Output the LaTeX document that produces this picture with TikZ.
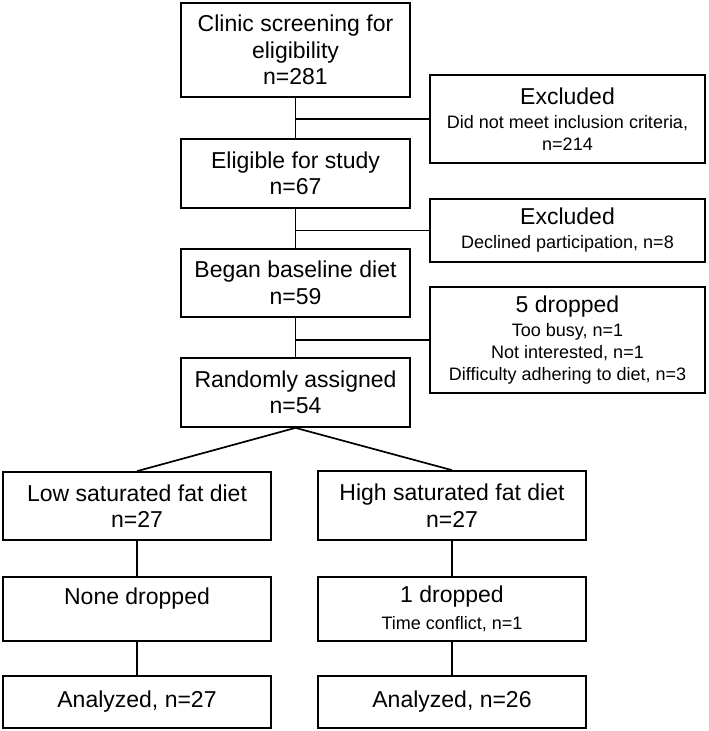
\documentclass[tikz,border=0pt]{standalone}
\usepackage{fontspec}
\setmainfont{Liberation Sans}
\newcommand{\bigtxt}{\fontsize{23}{26.5}\selectfont}
\newcommand{\smalltxt}{\fontsize{18}{22.5}\selectfont}

\tikzset{
  flowbox/.style={draw, rectangle, line width=1.7pt, align=center,
    inner sep=0pt, font=\bigtxt},
  leftbox/.style={flowbox, minimum width=229pt},
  sidebox/.style={flowbox, minimum width=275pt},
  armbox/.style={flowbox, minimum width=268pt},
  link/.style={line width=1.7pt}
}

\begin{document}
\begin{tikzpicture}[x=1pt,y=-1pt]
\useasboundingbox (0,0) rectangle (709,731);

% main column
\node[leftbox, minimum height=94pt] (clinic) at (295.5,50)
  {Clinic screening for\\eligibility\\n=281};
\node[leftbox, minimum height=69pt] (eligible) at (295.5,173.5)
  {Eligible for study\\n=67};
\node[leftbox, minimum height=68pt] (began) at (295.5,283)
  {Began baseline diet\\n=59};
\node[leftbox, minimum height=69pt] (random) at (295.5,392.5)
  {Randomly assigned\\n=54};

% excluded / dropped on the right
\node[sidebox, minimum height=88pt] (exclCriteria) at (567.5,119)
  {Excluded\\[-2.5pt]\smalltxt Did not meet inclusion criteria,\\[-4.5pt]\smalltxt n=214};
\node[sidebox, minimum height=63pt] (exclDeclined) at (567.5,230.5)
  {Excluded\\[-2.5pt]\smalltxt Declined participation, n=8};
\node[sidebox, minimum height=106pt] (dropBaseline) at (567.5,340)
  {5 dropped\\[-2.5pt]\smalltxt Too busy, n=1\\[-4.5pt]\smalltxt Not interested, n=1\\[-4.5pt]
   \smalltxt Difficulty adhering to diet, n=3};

% the two diets
\node[armbox, minimum height=68pt] (lowFat) at (137,506)
  {Low saturated fat diet\\n=27};
\node[armbox, minimum height=69pt] (highFat) at (452,505.5)
  {High saturated fat diet\\n=27};
\node[armbox, minimum height=64pt, text depth=25pt] (lowDrop) at (137,609)
  {None dropped};
\node[armbox, minimum height=64pt] (highDrop) at (452,609)
  {1 dropped\\\smalltxt Time conflict, n=1};
\node[armbox, minimum height=52pt] (lowAnalyzed) at (137,702)
  {Analyzed, n=27};
\node[armbox, minimum height=52pt] (highAnalyzed) at (452,702)
  {Analyzed, n=26};

\draw[link] (clinic) -- (eligible);
\draw[link] (eligible) -- (began);
\draw[link] (began) -- (random);
\draw[link] (exclCriteria.west) -- (exclCriteria.west -| clinic.south);
\draw[link] (exclDeclined.west) -- (exclDeclined.west -| eligible.south);
\draw[link] (dropBaseline.west) -- (dropBaseline.west -| began.south);
\draw[link] (random.south) -- (lowFat.north);
\draw[link] (random.south) -- (highFat.north);
\draw[link] (lowFat) -- (lowDrop);
\draw[link] (lowDrop) -- (lowAnalyzed);
\draw[link] (highFat) -- (highDrop);
\draw[link] (highDrop) -- (highAnalyzed);
\end{tikzpicture}
\end{document}
